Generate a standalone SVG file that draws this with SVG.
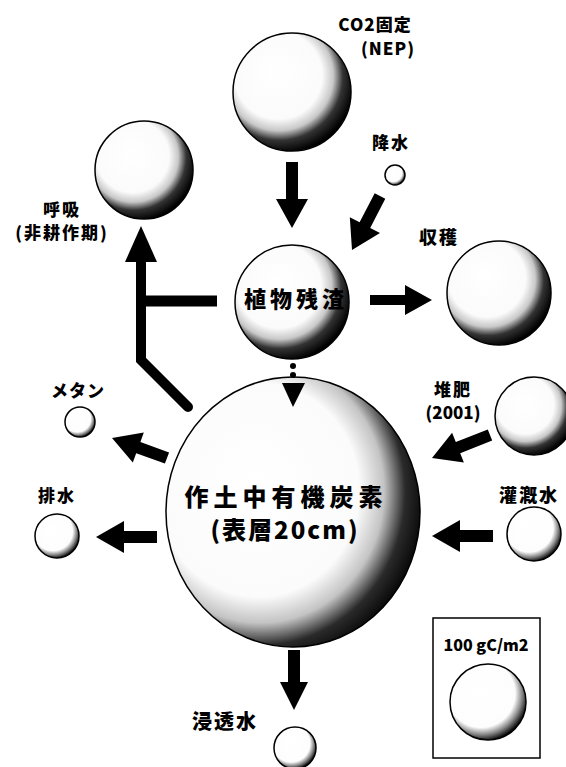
<svg xmlns="http://www.w3.org/2000/svg" width="566" height="767" viewBox="0 0 566 767">
<defs>
<radialGradient id="sph" cx="0.4" cy="0.38" r="0.64" fx="0.36" fy="0.33">
<stop offset="0" stop-color="#fff"/>
<stop offset="0.58" stop-color="#fbfbfb"/>
<stop offset="0.72" stop-color="#c8c8c8"/>
<stop offset="0.84" stop-color="#333"/>
<stop offset="1" stop-color="#000"/>
</radialGradient>
<radialGradient id="sph2" cx="0.42" cy="0.4" r="0.62" fx="0.38" fy="0.36">
<stop offset="0" stop-color="#fff"/>
<stop offset="0.72" stop-color="#fdfdfd"/>
<stop offset="0.86" stop-color="#888"/>
<stop offset="1" stop-color="#000"/>
</radialGradient>
<radialGradient id="sphBig" cx="0.38" cy="0.43" r="0.66" fx="0.34" fy="0.4">
<stop offset="0" stop-color="#fff"/>
<stop offset="0.6" stop-color="#fbfbfb"/>
<stop offset="0.74" stop-color="#c4c4c4"/>
<stop offset="0.86" stop-color="#2a2a2a"/>
<stop offset="1" stop-color="#000"/>
</radialGradient>
</defs>
<style>
.ball{fill:url(#sph);stroke:#000;stroke-width:1.5}
.small{fill:url(#sph2);stroke:#000;stroke-width:1.5}
.big{fill:url(#sphBig);stroke:#000;stroke-width:1.5}
.lbl{font-family:"Noto Sans CJK JP","Noto Sans",sans-serif;font-weight:900;fill:#000;text-anchor:middle}
.arr{fill:#000;stroke:none}
</style>
<rect width="566" height="767" fill="#fff"/>

<g id="co2">
<circle class="ball" cx="292" cy="92" r="59"/>
<text class="lbl" x="375" y="31" font-size="17" letter-spacing="1">CO2固定</text>
<text class="lbl" x="388" y="55" font-size="17" letter-spacing="1">(NEP)</text>
</g>
<g id="kousui">
<circle class="small" cx="395" cy="175" r="10"/>
<text class="lbl" x="391" y="149" font-size="17" letter-spacing="2">降水</text>
</g>
<g id="kokyu">
<circle class="ball" cx="144" cy="170" r="49"/>
<text class="lbl" x="62" y="216" font-size="17" letter-spacing="2">呼吸</text>
<text class="lbl" x="62" y="239" font-size="17" letter-spacing="2">(非耕作期)</text>
</g>
<g id="zansa">
<circle class="ball" cx="292" cy="302" r="57"/>
<text class="lbl" x="296" y="307" font-size="22" letter-spacing="4">植物残渣</text>
</g>
<g id="shukaku">
<circle class="ball" cx="499" cy="293" r="52"/>
<text class="lbl" x="439" y="244" font-size="18" letter-spacing="2">収穫</text>
</g>
<g id="soil">
<ellipse class="big" cx="293" cy="512" rx="127" ry="135"/>
<text class="lbl" x="286" y="506" font-size="24" letter-spacing="5">作土中有機炭素</text>
<text class="lbl" x="285" y="539" font-size="24" letter-spacing="2">(表層20cm)</text>
</g>
<g id="methane">
<circle class="small" cx="80" cy="422" r="15"/>
<text class="lbl" x="78" y="397" font-size="17" letter-spacing="1">メタン</text>
</g>
<g id="haisui">
<circle class="small" cx="57" cy="536" r="22"/>
<text class="lbl" x="57" y="502" font-size="17" letter-spacing="2">排水</text>
</g>
<g id="taihi">
<circle class="ball" cx="534" cy="416" r="39"/>
<text class="lbl" x="453" y="396" font-size="17" letter-spacing="2">堆肥</text>
<text class="lbl" x="453" y="419" font-size="17">(2001)</text>
</g>
<g id="kangai">
<circle class="small" cx="534" cy="534" r="27"/>
<text class="lbl" x="529" y="502" font-size="18" letter-spacing="2">灌漑水</text>
</g>
<g id="shintou">
<circle class="small" cx="295" cy="748" r="21"/>
<text class="lbl" x="225" y="729" font-size="20" letter-spacing="2">浸透水</text>
</g>
<g id="legend">
<rect x="433" y="618" width="107" height="140" fill="#fff" stroke="#000" stroke-width="1.5"/>
<text class="lbl" x="486" y="651" font-size="16">100 gC/m2</text>
<circle class="small" cx="488" cy="702" r="38"/>
</g>

<g id="connectors">
<polygon class="arr" points="286,162 298,162 298,199 308,199 292,228 276,199 286,199"/>
<polygon class="arr" points="385.3,198.8 370.2,227.9 380,232.9 352,250 349.8,217.3 359.6,222.3 374.7,193.2"/>
<polygon class="arr" points="370,295 405,295 405,285 432,300 405,315 405,305 370,305"/>
<polyline points="217,301 141,301" fill="none" stroke="#000" stroke-width="11"/>
<polyline points="141,258 141,360 188,407" fill="none" stroke="#000" stroke-width="10" stroke-linecap="round" stroke-linejoin="miter"/>
<polygon class="arr" points="141,226 157,262 125,262"/>
<circle cx="293" cy="366" r="3" fill="#000"/>
<circle cx="293" cy="375" r="3" fill="#000"/>
<polygon class="arr" points="282,383 305,383 293,407"/>
<polygon class="arr" points="169.1,452.4 140.4,442 143.8,432.6 112,438 132.8,462.6 136.2,453.2 164.9,463.6"/>
<polygon class="arr" points="157,531 124,531 124,521 96,537 124,553 124,543 157,543"/>
<polygon class="arr" points="487.8,429.4 455.8,442.1 452.1,432.8 432,458 463.9,462.6 460.2,453.3 492.2,440.6"/>
<polygon class="arr" points="493,530 460,530 460,520 432,536 460,552 460,542 493,542"/>
<polygon class="arr" points="288,650 300,650 300,682 308,682 294,710 280,682 288,682"/>
</g>
</svg>
